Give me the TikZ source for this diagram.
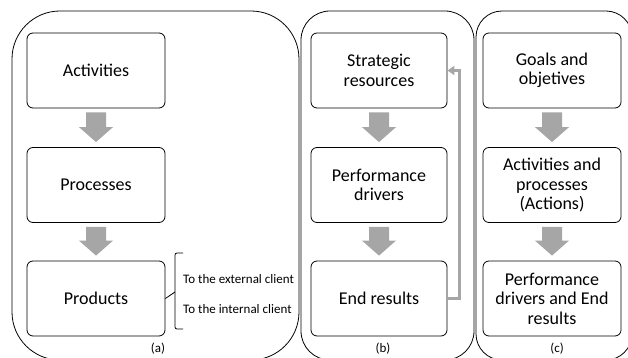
\documentclass[tikz,border=0pt]{standalone}
\usepackage{fontspec}
\setmainfont{Carlito}
\usetikzlibrary{calc,arrows.meta}
\definecolor{arrowgray}{HTML}{A6A6A6}
\tikzset{
  panel/.style={draw=black, line width=0.8pt},
  box/.style={draw=black, line width=0.8pt, rounded corners=6pt, minimum width=138pt,
    minimum height=75pt, align=center, inner sep=2pt,
    font=\fontsize{18}{19.5}\selectfont},
  small/.style={font=\fontsize{13}{15}\selectfont, inner sep=0pt},
  fb/.style={draw=arrowgray, line width=2.5pt, -{Triangle[length=7pt,width=9pt]}},
}
% thick grey block arrow between two stacked boxes
\newcommand\blockarr[2]{%
  \fill[arrowgray] ($(#1.south)+(-10,4)$) -- ($(#1.south)+(10,4)$)
    -- ($(#2.north)+(10,-20)$) -- ($(#2.north)+(17,-20)$)
    -- ($(#2.north)+(0,-5)$) -- ($(#2.north)+(-17,-20)$)
    -- ($(#2.north)+(-10,-20)$) -- cycle;}
\begin{document}
\begin{tikzpicture}[x=1pt, y=-1pt]
\useasboundingbox (0,0) rectangle (628,358);
\clip (0,0) rectangle (628,358);

% outer panels
\draw[panel, rounded corners=48pt] (12,11) rectangle (299,360);
\draw[panel, rounded corners=29pt] (301,11) rectangle (474,360);
\draw[panel, rounded corners=26pt] (476,11) rectangle (632,360);

% panel (a)
\node[box] (a1) at (96,70.5) {Activities};
\node[box] (a2) at (96,185) {Processes};
\node[box] (a3) at (96,298.5) {Products};
\blockarr{a1}{a2}
\blockarr{a2}{a3}
\draw[line width=0.8pt, rounded corners=2pt] (a3.east) -- (175,292);
\draw[line width=0.8pt, rounded corners=2pt] (183,253) -- (175,253) -- (175,329) -- (183,329);
\node[small, anchor=west] (ext) at (183,279) {To the external client};
\node[small, anchor=west] (int) at (183,309) {To the internal client};
\node[small] (la) at (158,349) {(a)};

% panel (b)
\node[box, minimum width=136pt] (b1) at (379,70.5) {Strategic\\resources};
\node[box, minimum width=136pt] (b2) at (379,185) {Performance\\drivers};
\node[box, minimum width=136pt] (b3) at (379,298.5) {End results};
\blockarr{b1}{b2}
\blockarr{b2}{b3}
\draw[fb] (b3.east) -- ++(12,0) |- (b1.east);
\node[small] (lb) at (383,349) {(b)};

% panel (c)
\node[box] (c1) at (552,70.5) {Goals and\\objetives};
\node[box] (c2) at (552,185) {Activities and\\processes\\(Actions)};
\node[box] (c3) at (552,298.5) {Performance\\drivers and End\\results};
\blockarr{c1}{c2}
\blockarr{c2}{c3}
\node[small] (lc) at (557,349) {(c)};
\end{tikzpicture}
\end{document}
